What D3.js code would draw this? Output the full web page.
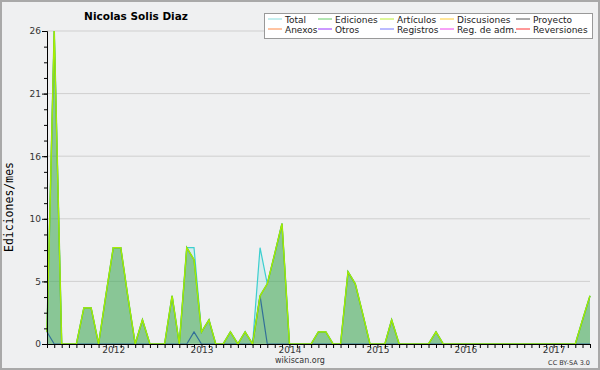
<!DOCTYPE html>
<html>
<head>
<meta charset="utf-8">
<script src="https://cdn.jsdelivr.net/npm/d3@7"></script>
<style>
  body { margin: 0; background: #fff; }
  svg { display: block; font-family: "DejaVu Sans", sans-serif; }
</style>
</head>
<body>
<svg id="chart"></svg>
<script>
// monthly values, Apr 2011 .. Jun 2017
const startMonth = new Date(2011, 3, 1);
const endMonth = new Date(2017, 5, 1);

const total = [1, 26, 0, 0, 0, 3, 3, 0, 4, 8, 8, 4, 0, 2, 0, 0, 0, 4, 0, 8,
  8, 1, 2, 0, 0, 1, 0, 1, 0, 8, 5, 7.5, 10, 0, 0, 0, 0, 1, 1, 0,
  0, 6, 5, 2.5, 0, 0, 0, 2, 0, 0, 0, 0, 0, 1, 0, 0, 0, 0, 0, 0,
  0, 0, 0, 0, 0, 0, 0, 0, 0, 0, 0, 0, 0, 2, 4];
const ediciones = [1, 26, 0, 0, 0, 3, 3, 0, 4, 8, 8, 4, 0, 2, 0, 0, 0, 4, 0, 8,
  7, 1, 2, 0, 0, 1, 0, 1, 0, 4, 5, 7.5, 10, 0, 0, 0, 0, 1, 1, 0,
  0, 6, 5, 2.5, 0, 0, 0, 2, 0, 0, 0, 0, 0, 1, 0, 0, 0, 0, 0, 0,
  0, 0, 0, 0, 0, 0, 0, 0, 0, 0, 0, 0, 0, 2, 4];
const articulos = [1, 26, 0, 0, 0, 3, 3, 0, 4, 8, 8, 4, 0, 2, 0, 0, 0, 4, 0, 8,
  7, 1, 2, 0, 0, 1, 0, 1, 0, 4, 5, 7.5, 10, 0, 0, 0, 0, 1, 1, 0,
  0, 6, 5, 2.5, 0, 0, 0, 2, 0, 0, 0, 0, 0, 1, 0, 0, 0, 0, 0, 0,
  0, 0, 0, 0, 0, 0, 0, 0, 0, 0, 0, 0, 0, 2, 4];
const registros = [1, 0, 0, 0, 0, 0, 0, 0, 0, 0, 0, 0, 0, 0, 0, 0, 0, 0, 0, 0,
  1, 0, 0, 0, 0, 0, 0, 0, 0, 4, 0, 0, 0, 0, 0, 0, 0, 0, 0, 0,
  0, 0, 0, 0, 0, 0, 0, 0, 0, 0, 0, 0, 0, 0, 0, 0, 0, 0, 0, 0,
  0, 0, 0, 0, 0, 0, 0, 0, 0, 0, 0, 0, 0, 0, 0];

const yTicks = [0, 5.2, 10.4, 15.6, 20.8, 26];
const yTickLabels = ['0', '5', '10', '16', '21', '26'];

const legendRows = [
  [['Total', '#8adede'], ['Ediciones', '#6c6'], ['Artículos', '#bbee33'], ['Discusiones', '#ffcc33'], ['Proyecto', '#555']],
  [['Anexos', '#ff8844'], ['Otros', '#9933ff'], ['Registros', '#7777ff'], ['Reg. de adm.', '#ee44ee'], ['Reversiones', '#ff3333']]
];

const svgWidth = 600;
const svgHeight = 370;
const margin = { top: 31, right: 10, bottom: 26, left: 47 };
const width = svgWidth - margin.left - margin.right;
const height = svgHeight - margin.top - margin.bottom;

const months = d3.timeMonth.range(startMonth, d3.timeMonth.offset(endMonth, 1));

const svg = d3.select('#chart')
  .attr('width', svgWidth)
  .attr('height', svgHeight);

svg.append('rect')
  .attr('x', 1).attr('y', 1)
  .attr('width', svgWidth - 2).attr('height', svgHeight - 2)
  .attr('fill', '#eff0f1')
  .attr('stroke', '#a9a9a9')
  .attr('stroke-width', 2);

const g = svg.append('g')
  .attr('transform', `translate(${margin.left}, ${margin.top})`);

const xScale = d3.scaleTime()
  .domain([startMonth, endMonth])
  .range([0, width]);
const yScale = d3.scaleLinear()
  .domain([0, 26])
  .range([height, 0]);

// grid
g.selectAll('.grid')
  .data(yTicks.slice(1))
  .enter()
  .append('line')
    .attr('x1', 0).attr('x2', width)
    .attr('y1', d => yScale(d)).attr('y2', d => yScale(d))
    .attr('stroke', '#cfcfcf');

const area = vals => d3.area()
  .x((d, i) => xScale(months[i]))
  .y0(height)
  .y1(d => yScale(d))(vals);
const line = vals => d3.line()
  .x((d, i) => xScale(months[i]))
  .y(d => yScale(d))(vals);

g.append('path').attr('d', area(total))
  .attr('fill', '#6fe0e0').attr('fill-opacity', 0.18);
g.append('path').attr('d', line(total))
  .attr('fill', 'none').attr('stroke', '#3ccfcf').attr('stroke-width', 1.2);
g.append('path').attr('d', line(registros))
  .attr('fill', 'none').attr('stroke', '#2b3ef0').attr('stroke-width', 1.2);
g.append('path').attr('d', area(ediciones))
  .attr('fill', '#3aa040').attr('fill-opacity', 0.5);
g.append('path').attr('d', line(ediciones))
  .attr('fill', 'none').attr('stroke', '#55bb44').attr('stroke-width', 1.5);
g.append('path').attr('d', line(articulos))
  .attr('fill', 'none').attr('stroke', '#a8ee00').attr('stroke-width', 1.2);

// axes
const yAxis = d3.axisLeft(yScale)
  .tickValues(yTicks)
  .tickFormat((d, i) => yTickLabels[i])
  .tickSize(5)
  .tickPadding(1);
const yAxisG = g.append('g').call(yAxis);
yAxisG.select('.domain').attr('stroke', '#000');
yAxisG.selectAll('text').attr('font-size', 9).attr('fill', '#333')
  .attr('font-family', '"DejaVu Sans", sans-serif');

g.append('g')
  .call(d3.axisLeft(yScale).ticks(20).tickValues(d3.range(1, 20).map(k => k * 1.3)).tickSize(3).tickFormat(''))
  .call(a => a.select('.domain').remove());

const xAxis = d3.axisBottom(xScale)
  .tickValues(months)
  .tickFormat(d => d.getMonth() === 0 ? d3.timeFormat('%Y')(d) : '')
  .tickSize(4)
  .tickPadding(-1)
  .tickSizeOuter(0);
const xAxisG = g.append('g')
  .attr('transform', `translate(0, ${height})`)
  .call(xAxis);
xAxisG.select('.domain').attr('stroke', '#000');
xAxisG.selectAll('text').attr('font-size', 9).attr('fill', '#333')
  .attr('font-family', '"DejaVu Sans", sans-serif');

// labels
svg.append('text')
  .attr('x', 136).attr('y', 20)
  .attr('text-anchor', 'middle')
  .attr('font-size', 10.5).attr('font-weight', 'bold')
  .text('Nicolas Solis Diaz');

svg.append('text')
  .attr('transform', 'translate(13, 207) rotate(-90)')
  .attr('text-anchor', 'middle')
  .attr('font-family', '"DejaVu Sans Mono", monospace')
  .attr('font-size', 11.5)
  .text('Ediciones/mes');

svg.append('text')
  .attr('x', 300).attr('y', 363)
  .attr('text-anchor', 'middle')
  .attr('font-size', 8).attr('fill', '#333')
  .text('wikiscan.org');

svg.append('text')
  .attr('x', 590).attr('y', 365)
  .attr('text-anchor', 'end')
  .attr('font-size', 6.5).attr('fill', '#333')
  .text('CC BY-SA 3.0');

// legend
const legend = svg.append('g');
legend.append('rect')
  .attr('x', 264.5).attr('y', 13.5)
  .attr('width', 328).attr('height', 25)
  .attr('fill', '#fff').attr('stroke', '#999');

const colX = [268, 318, 380, 440, 516];
legendRows.forEach((row, r) => {
  row.forEach((item, c) => {
    const y = 19 + r * 10;
    legend.append('line')
      .attr('x1', colX[c]).attr('x2', colX[c] + 14)
      .attr('y1', y).attr('y2', y)
      .attr('stroke', item[1]);
    legend.append('text')
      .attr('x', colX[c] + 17).attr('y', y + 3.5)
      .attr('font-size', 9).attr('fill', '#222')
      .text(item[0]);
  });
});
</script>
</body>
</html>
